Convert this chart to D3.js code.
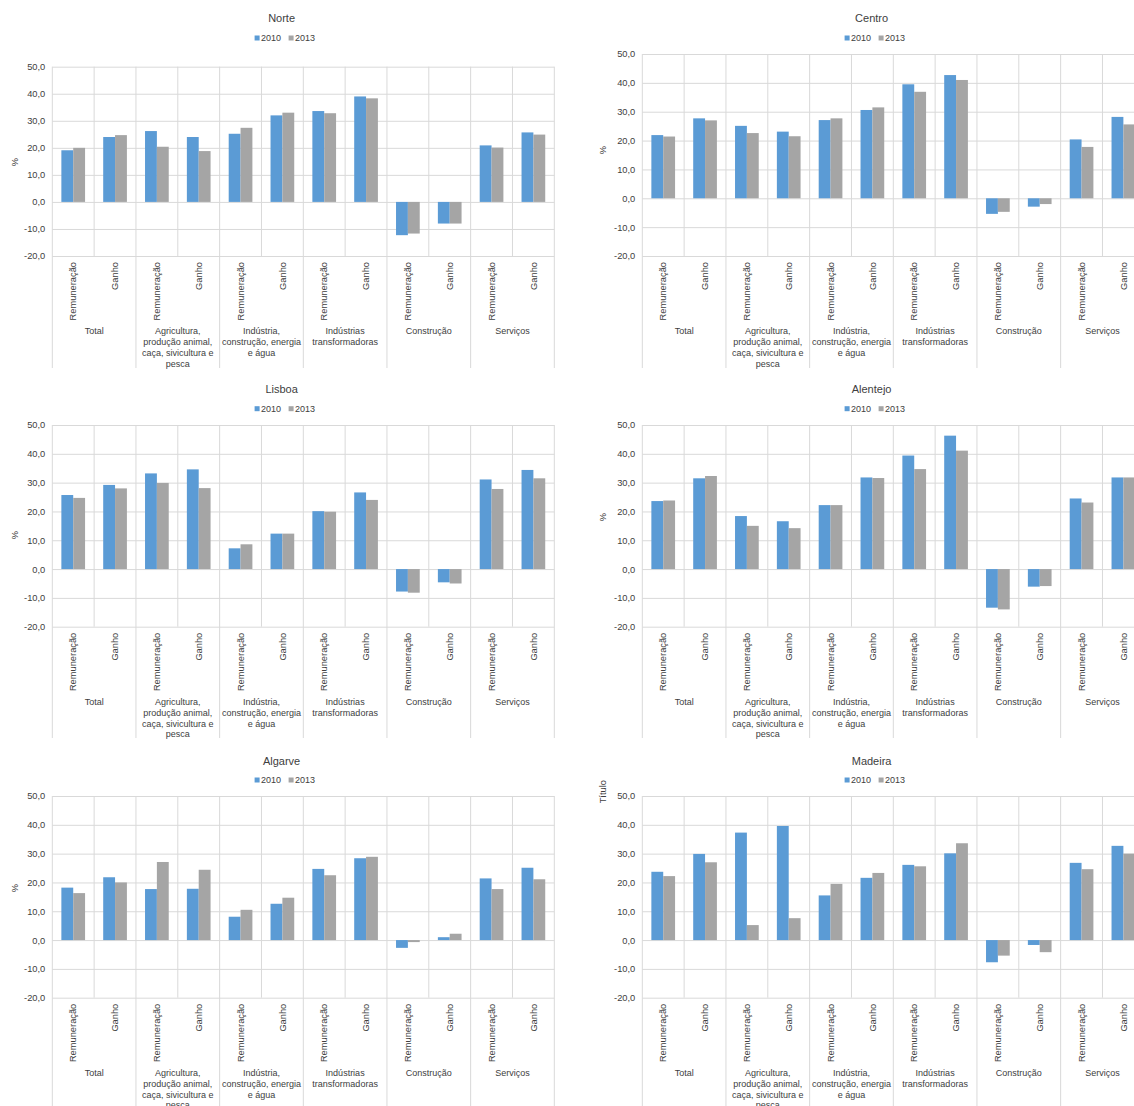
<!DOCTYPE html>
<html lang="pt">
<head>
<meta charset="UTF-8">
<title>Remuneração e ganho por região</title>
<script src="https://cdn.jsdelivr.net/npm/d3@7"></script>
<style>
    body { margin: 0; background: #fff; }
    svg text { font-family: Arial, "Liberation Sans", sans-serif; fill: #404040; }
</style>
</head>
<body>
<svg id="chart" width="1134" height="1106"></svg>
<script>
    var years = ["2010", "2013"];
    var colors = ["#5b9bd5", "#a5a5a5"];
    var measures = ["Remuneração", "Ganho"];
    var sectors = [
        ["Total"],
        ["Agricultura,", "produção animal,", "caça, sivicultura e", "pesca"],
        ["Indústria,", "construção, energia", "e água"],
        ["Indústrias", "transformadoras"],
        ["Construção"],
        ["Serviços"]
    ];
    var yTicks = [-20, -10, 0, 10, 20, 30, 40, 50];
    var regions = ["Norte", "Centro", "Lisboa", "Alentejo", "Algarve", "Madeira"];
    var yTitles = ["%", "%", "%", "%", "%", "Título"];

    // per sector: Remuneração, Ganho
    var norte2010 = [19.1, 24.0, 26.2, 24.0, 25.2, 32.0, 33.6, 39.0, -12.3, -8.0, 20.9, 25.7];
    var norte2013 = [20.0, 24.7, 20.4, 18.8, 27.4, 33.0, 32.8, 38.3, -11.7, -8.0, 20.1, 24.9];
    var centro2010 = [21.9, 27.7, 25.1, 23.1, 27.1, 30.6, 39.5, 42.7, -5.4, -2.9, 20.4, 28.2];
    var centro2013 = [21.4, 27.0, 22.6, 21.5, 27.7, 31.5, 36.9, 41.0, -4.7, -2.0, 17.8, 25.6];
    var lisboa2010 = [25.7, 29.2, 33.2, 34.6, 7.2, 12.3, 20.1, 26.6, -7.8, -4.6, 31.1, 34.4];
    var lisboa2013 = [24.7, 28.0, 29.9, 28.1, 8.6, 12.3, 19.9, 24.0, -8.2, -5.0, 27.8, 31.5];
    var alentejo2010 = [23.6, 31.5, 18.4, 16.6, 22.2, 31.8, 39.4, 46.3, -13.4, -6.1, 24.5, 31.8];
    var alentejo2013 = [23.8, 32.3, 15.0, 14.2, 22.2, 31.6, 34.7, 41.1, -14.0, -5.9, 23.1, 31.8];
    var algarve2010 = [18.2, 21.8, 17.7, 17.8, 8.1, 12.6, 24.7, 28.4, -2.7, 1.0, 21.4, 25.1];
    var algarve2013 = [16.3, 20.0, 27.1, 24.4, 10.5, 14.7, 22.5, 28.9, -0.7, 2.2, 17.7, 21.1];
    var madeira2010 = [23.7, 29.9, 37.3, 39.6, 15.5, 21.6, 26.1, 30.1, -7.7, -1.7, 26.8, 32.7];
    var madeira2013 = [22.2, 27.0, 5.2, 7.6, 19.5, 23.3, 25.6, 33.6, -5.4, -4.2, 24.6, 30.0];

    var series = [
        [norte2010, norte2013],
        [centro2010, centro2013],
        [lisboa2010, lisboa2013],
        [alentejo2010, alentejo2013],
        [algarve2010, algarve2013],
        [madeira2010, madeira2013]
    ];

    var layout = [
        {ox: 0, oy: 0, top: 66.7, bottom: 256, titleY: 22, legendY: 38, yTitleY: 162},
        {ox: 590, oy: 0, top: 54, bottom: 256, titleY: 22, legendY: 38, yTitleY: 150},
        {ox: 0, oy: 370, top: 55, bottom: 256.7, titleY: 23, legendY: 38.7, yTitleY: 165},
        {ox: 590, oy: 370, top: 55, bottom: 256.7, titleY: 23, legendY: 38.7, yTitleY: 147},
        {ox: 0, oy: 740, top: 56, bottom: 257.7, titleY: 24.5, legendY: 40, yTitleY: 148},
        {ox: 590, oy: 740, top: 56, bottom: 257.7, titleY: 24.5, legendY: 40, yTitleY: 51.7}
    ];

    var svg = d3.select("#chart");
    var fmt = d3.formatLocale({decimal: ",", thousands: ".", grouping: [3], currency: ["", "€"], minus: "-"}).format(".1f");
    var gridColor = "#d9d9d9";

    var keys = [];
    sectors.forEach(function (s, si) {
        measures.forEach(function (m, mi) {
            keys.push(si + "-" + mi);
        });
    });

    regions.forEach(function (name, i) {
        drawPanel(i);
    });

    function drawPanel(i) {
        var L = layout[i];
        var left = 52.3, width = 502, cx = 281.6;
        var g = svg.append("g").attr("transform", "translate(" + L.ox + "," + L.oy + ")");

        var x0 = d3.scaleBand().domain(keys).range([left, left + width]);
        var x1 = d3.scaleBand().domain(years).range([0, x0.bandwidth()]).paddingOuter(0.765);
        var y = d3.scaleLinear().domain([-20, 50]).range([L.bottom, L.top]);

        // title + legend
        g.append("text").attr("x", cx).attr("y", L.titleY).attr("text-anchor", "middle")
            .attr("font-size", 11).text(regions[i]);
        var legendX = [[-27, -20.5], [7, 13.5]];
        years.forEach(function (yr, j) {
            g.append("rect").attr("x", cx + legendX[j][0]).attr("y", L.legendY - 2.5)
                .attr("width", 5).attr("height", 5).attr("fill", colors[j]);
            g.append("text").attr("x", cx + legendX[j][1]).attr("y", L.legendY + 3.3)
                .attr("font-size", 9).text(yr);
        });

        // y axis + horizontal gridlines
        var ya = g.append("g").attr("transform", "translate(" + left + ",0)")
            .call(d3.axisLeft(y).tickValues(yTicks).tickSize(-width).tickPadding(7).tickFormat(fmt));
        ya.attr("font-family", null).attr("font-size", null);
        ya.select(".domain").remove();
        ya.selectAll("line").attr("stroke", gridColor);
        ya.selectAll("text").attr("font-size", 9.3).attr("fill", null);

        // vertical lines at category borders
        var step = x0.step();
        for (var k = 0; k <= keys.length; k++) {
            var xx = left + k * step;
            g.append("line").attr("x1", xx).attr("x2", xx)
                .attr("y1", L.top).attr("y2", k % 2 === 0 ? 368 : L.bottom)
                .attr("stroke", gridColor).attr("stroke-width", 1);
        }

        // bars
        keys.forEach(function (key, k) {
            years.forEach(function (yr, j) {
                var v = series[i][j][k];
                g.append("rect")
                    .attr("x", x0(key) + x1(yr))
                    .attr("y", y(Math.max(0, v)))
                    .attr("width", x1.bandwidth())
                    .attr("height", Math.abs(y(v) - y(0)))
                    .attr("fill", colors[j]);
            });
        });

        // sub category labels (rotated)
        var xa = g.append("g").attr("transform", "translate(0," + L.bottom + ")")
            .call(d3.axisBottom(x0).tickSize(0).tickFormat(function (key) {
                return measures[+key.split("-")[1]];
            }));
        xa.attr("font-family", null).attr("font-size", null);
        xa.select(".domain").remove();
        xa.selectAll("text")
            .attr("transform", "rotate(-90)")
            .attr("text-anchor", "end")
            .attr("x", -6).attr("y", 0).attr("dy", "0.35em")
            .attr("font-size", 9.3).attr("fill", null);

        // sector labels
        sectors.forEach(function (lines, si) {
            var t = g.append("text").attr("text-anchor", "middle").attr("font-size", 9)
                .attr("x", left + (2 * si + 1) * step);
            lines.forEach(function (ln, li) {
                t.append("tspan").attr("x", left + (2 * si + 1) * step)
                    .attr("y", L.bottom + 78.2 + li * 10.8).text(ln);
            });
        });

        // y axis title
        g.append("text").attr("transform", "translate(" + (i % 2 ? 13 : 14.5) + "," + L.yTitleY + ") rotate(-90)")
            .attr("text-anchor", "middle").attr("dy", "0.35em").attr("font-size", 9.3)
            .text(yTitles[i]);
    }
</script>
</body>
</html>
